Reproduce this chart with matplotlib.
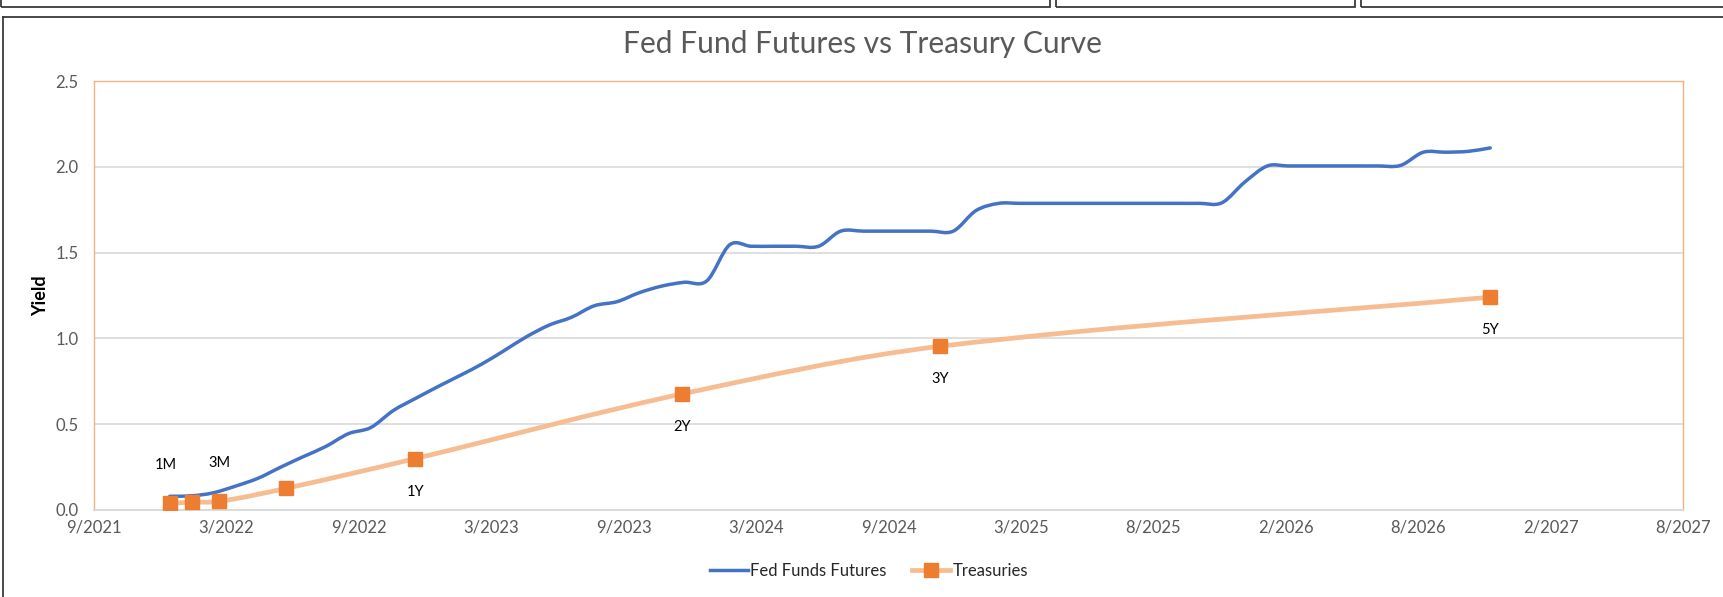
import numpy as np
import pandas as pd
import matplotlib
matplotlib.use('Agg')
import matplotlib.pyplot as plt
import matplotlib.dates as mdates
from matplotlib.path import Path
from matplotlib.patches import PathPatch, Rectangle
from matplotlib.lines import Line2D

plt.rcParams['font.family'] = ['Lato', 'DejaVu Sans']

# ---- data ----
ff_months = pd.date_range('2022-01-01', '2026-12-01', freq='MS')
ff_rates = [0.080, 0.083, 0.100, 0.140, 0.185, 0.250, 0.310, 0.370, 0.445, 0.480, 0.580, 0.650,
            0.720, 0.787, 0.850, 0.930, 1.010, 1.078, 1.123, 1.190, 1.214, 1.266, 1.305, 1.327,
            1.335, 1.545, 1.537, 1.537, 1.537, 1.537, 1.625, 1.625, 1.625, 1.625, 1.625, 1.625,
            1.745, 1.787, 1.787, 1.787, 1.787, 1.787, 1.787, 1.787, 1.787, 1.787, 1.787, 1.790,
            1.910, 2.005, 2.005, 2.005, 2.005, 2.005, 2.005, 2.008, 2.085, 2.085, 2.090, 2.110]

tsy_tenors = ['1M', '2M', '3M', '6M', '1Y', '2Y', '3Y', '5Y']
tsy_dates = ['2022-01-01', '2022-01-31', '2022-03-09', '2022-06-08',
             '2022-12-01', '2023-11-28', '2024-11-13', '2026-11-30']
tsy_yields = [0.039, 0.045, 0.050, 0.126, 0.300, 0.676, 0.954, 1.240]
tsy_shown = ['1M', '3M', '1Y', '2Y', '3Y', '5Y']

x_tick_labels = ['9/2021', '3/2022', '9/2022', '3/2023', '9/2023', '3/2024', '9/2024',
                 '3/2025', '8/2025', '2/2026', '8/2026', '2/2027', '8/2027']
axis_start, axis_end = '2021-09-20', '2027-08-20'

BLUE = '#4472C4'
ORANGE = '#ED7D31'
PEACH = '#F6BC92'
GRID = '#D9D9D9'
TXT = '#595959'


def smooth_path(x, y):
    # excel-like smoothed line: cubic bezier through every point
    x = np.asarray(x, float)
    y = np.asarray(y, float)
    n = len(x)
    m = np.empty(n)
    m[1:-1] = (y[2:] - y[:-2]) / (x[2:] - x[:-2])
    m[0] = (y[1] - y[0]) / (x[1] - x[0])
    m[-1] = (y[-1] - y[-2]) / (x[-1] - x[-2])
    verts = [(x[0], y[0])]
    codes = [Path.MOVETO]
    for i in range(n - 1):
        h = (x[i + 1] - x[i]) / 3
        verts += [(x[i] + h, y[i] + m[i] * h),
                  (x[i + 1] - h, y[i + 1] - m[i + 1] * h),
                  (x[i + 1], y[i + 1])]
        codes += [Path.CURVE4] * 3
    return Path(verts, codes)


W, H = 1724, 597
fig = plt.figure(figsize=(W / 100, H / 100), dpi=100)
ax = fig.add_axes([94 / W, 1 - 510 / H, (1683 - 94) / W, (510 - 81) / H])

ff_x = mdates.date2num(ff_months)
tsy_x = mdates.date2num(pd.to_datetime(tsy_dates))

ax.add_patch(PathPatch(smooth_path(ff_x, ff_rates), fill=False, edgecolor=BLUE,
                       lw=2.5, capstyle='round', joinstyle='round', zorder=3))
ax.add_patch(PathPatch(smooth_path(tsy_x, tsy_yields), fill=False, edgecolor=PEACH,
                       lw=3.4, capstyle='round', joinstyle='round', zorder=4))
ax.plot(tsy_x, tsy_yields, ls='none', marker='s', ms=10, color=ORANGE,
        mec=ORANGE, zorder=5)

# data labels
for t, xv, yv in zip(tsy_tenors, tsy_x, tsy_yields):
    if t not in tsy_shown:
        continue
    if t in ('1M', '3M'):
        off = (-4 if t == '1M' else 0, 38)
    else:
        off = (0, -33)
    ax.annotate(t, (xv, yv), xytext=off, textcoords='offset pixels',
                ha='center', va='center', fontsize=10.5, color='black', zorder=6)

x0 = mdates.date2num(pd.Timestamp(axis_start))
x1 = mdates.date2num(pd.Timestamp(axis_end))
ax.set_xlim(x0, x1)
ax.set_ylim(0, 2.5)
ax.set_xticks(np.linspace(x0, x1, len(x_tick_labels)))
ax.set_xticklabels(x_tick_labels)
ax.set_yticks(np.arange(0, 2.51, 0.5))
ax.set_yticklabels([f'{v:.1f}' for v in np.arange(0, 2.51, 0.5)])
ax.tick_params(axis='both', length=0, labelsize=12, labelcolor=TXT)
ax.tick_params(axis='x', pad=7)
ax.tick_params(axis='y', pad=11)
ax.grid(axis='y', color=GRID, lw=1.2)
ax.set_axisbelow(True)
for s in ('top', 'left', 'right'):
    ax.spines[s].set_color('#F4B183')
    ax.spines[s].set_linewidth(1.0)
ax.spines['bottom'].set_color(GRID)
ax.spines['bottom'].set_linewidth(1.3)

fig.text(862 / W, 1 - 44 / H, 'Fed Fund Futures vs Treasury Curve', ha='center',
         va='center', fontsize=21.6, color=TXT)
fig.text(41 / W, 1 - 296 / H, 'Yield', rotation=90, ha='center', va='center',
         fontsize=13, fontweight='bold', color='black')

handles = [Line2D([], [], color=BLUE, lw=2.5),
           Line2D([], [], color=PEACH, lw=3.4, marker='s', ms=10, mfc=ORANGE, mec=ORANGE)]
fig.legend(handles, ['Fed Funds Futures', 'Treasuries'], loc='center',
           bbox_to_anchor=(869 / W, 1 - 571 / H), ncol=2, frameon=False,
           fontsize=12, handlelength=2.25, columnspacing=1.55, handletextpad=0.15,
           labelcolor='#262626')

# screenshot frame bits
ink = '#3A3A3A'
fig.add_artist(Line2D([3.5 / W, 3.5 / W], [0, 1 - 17 / H], color=ink, lw=1.3,
                      transform=fig.transFigure))
fig.add_artist(Line2D([3.5 / W, 1], [1 - 17 / H, 1 - 17 / H], color=ink, lw=1.3,
                      transform=fig.transFigure))
for a, b in [(1, 1050), (1056, 1355), (1361, 1730)]:
    fig.add_artist(Rectangle((a / W, 1 - 7 / H), (b - a) / W, 10 / H, fill=False,
                             edgecolor=ink, lw=1.3, transform=fig.transFigure))

fig.savefig('out.png', dpi=100)
